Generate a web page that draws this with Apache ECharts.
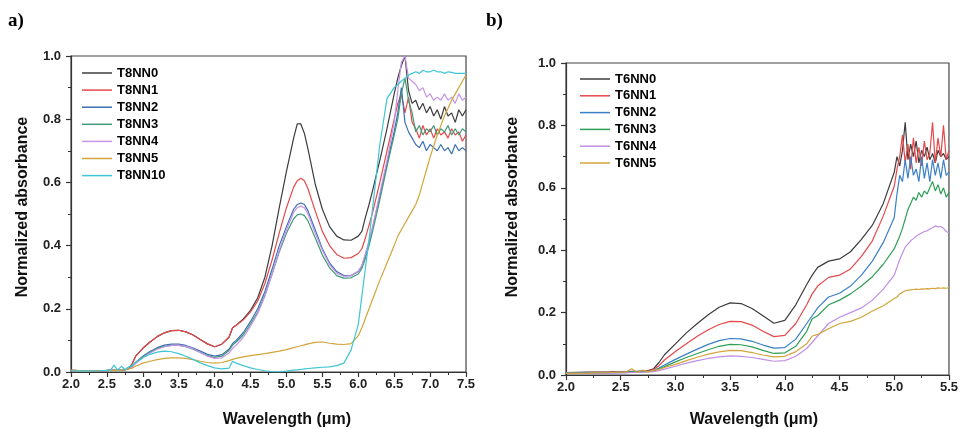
<!DOCTYPE html>
<html>
<head>
<meta charset="utf-8">
<script src="https://cdn.jsdelivr.net/npm/echarts@6/dist/echarts.min.js"></script>
<style>
html,body{margin:0;padding:0;background:#fff;}
#c{width:961px;height:429px;}
</style>
</head>
<body>
<div id="c"></div>
<script>
// ---------- Panel a) ----------
var xA = [2.0,2.2,2.4,2.55,2.6,2.65,2.7,2.75,2.8,2.85,2.9,3.0,3.1,3.2,3.3,3.4,3.5,3.6,3.7,3.8,3.9,4.0,4.1,4.2,4.25,4.3,4.4,4.5,4.6,4.7,4.8,4.9,5.0,5.1,5.15,5.2,5.25,5.3,5.4,5.5,5.6,5.7,5.8,5.9,6.0,6.05,6.1,6.15,6.2,6.3,6.4,6.5,6.55,6.6,6.65,6.7,6.75,6.8,6.85,6.9,6.95,7.0,7.05,7.1,7.15,7.2,7.25,7.3,7.35,7.4,7.45,7.5];
var namesA = ['T8NN0','T8NN1','T8NN2','T8NN3','T8NN4','T8NN5','T8NN10'];
var T8NN0 = [0.005,0.004,0.004,0.005,0.005,0.005,0.006,0.007,0.01,0.025,0.05,0.075,0.095,0.112,0.124,0.131,0.132,0.127,0.117,0.103,0.089,0.08,0.088,0.11,0.14,0.148,0.168,0.195,0.235,0.3,0.4,0.52,0.635,0.74,0.785,0.785,0.755,0.705,0.595,0.515,0.46,0.43,0.418,0.417,0.43,0.445,0.49,0.53,0.575,0.67,0.77,0.88,0.93,0.97,1.0,0.89,0.85,0.86,0.83,0.85,0.82,0.84,0.81,0.83,0.8,0.84,0.81,0.82,0.79,0.83,0.81,0.83];
var T8NN1 = [0.005,0.004,0.004,0.005,0.005,0.005,0.006,0.007,0.01,0.025,0.05,0.075,0.095,0.112,0.124,0.131,0.132,0.127,0.117,0.103,0.089,0.08,0.088,0.11,0.14,0.148,0.165,0.19,0.225,0.28,0.355,0.44,0.52,0.585,0.605,0.613,0.605,0.58,0.51,0.445,0.4,0.372,0.36,0.362,0.375,0.39,0.425,0.465,0.505,0.6,0.7,0.8,0.85,0.88,0.82,0.87,0.79,0.77,0.74,0.78,0.75,0.77,0.74,0.77,0.75,0.76,0.74,0.77,0.75,0.76,0.73,0.75];
var T8NN2 = [0.005,0.004,0.004,0.005,0.005,0.005,0.006,0.007,0.01,0.018,0.03,0.05,0.065,0.077,0.085,0.088,0.088,0.084,0.076,0.066,0.056,0.05,0.055,0.072,0.09,0.1,0.125,0.16,0.2,0.255,0.325,0.4,0.46,0.515,0.53,0.535,0.53,0.51,0.45,0.39,0.345,0.318,0.305,0.305,0.318,0.335,0.37,0.41,0.455,0.555,0.66,0.76,0.82,0.9,0.79,0.76,0.74,0.72,0.71,0.73,0.7,0.72,0.71,0.7,0.72,0.7,0.71,0.69,0.72,0.7,0.71,0.7];
var T8NN3 = [0.004,0.004,0.004,0.005,0.005,0.005,0.006,0.007,0.01,0.018,0.03,0.048,0.063,0.074,0.081,0.084,0.084,0.08,0.072,0.062,0.052,0.046,0.05,0.068,0.085,0.095,0.118,0.152,0.19,0.243,0.31,0.38,0.44,0.485,0.497,0.5,0.495,0.478,0.425,0.37,0.33,0.305,0.297,0.298,0.31,0.327,0.36,0.4,0.445,0.545,0.65,0.75,0.8,0.88,0.93,0.86,0.82,0.76,0.78,0.75,0.77,0.76,0.78,0.75,0.77,0.76,0.78,0.75,0.77,0.75,0.77,0.76];
var T8NN4 = [0.004,0.003,0.004,0.005,0.005,0.005,0.006,0.007,0.01,0.015,0.027,0.045,0.06,0.072,0.08,0.084,0.085,0.081,0.073,0.062,0.05,0.043,0.045,0.06,0.075,0.085,0.11,0.145,0.185,0.24,0.31,0.385,0.45,0.505,0.52,0.525,0.52,0.5,0.44,0.385,0.34,0.313,0.303,0.305,0.32,0.337,0.375,0.415,0.46,0.565,0.67,0.79,0.89,0.98,1.0,0.93,0.92,0.91,0.89,0.9,0.87,0.88,0.86,0.87,0.86,0.88,0.86,0.87,0.85,0.88,0.86,0.87];
var T8NN5 = [0.006,0.003,0.004,0.005,0.005,0.005,0.006,0.007,0.01,0.012,0.018,0.028,0.034,0.039,0.043,0.045,0.045,0.043,0.039,0.034,0.03,0.028,0.03,0.036,0.04,0.043,0.048,0.052,0.055,0.058,0.062,0.066,0.071,0.077,0.08,0.083,0.086,0.089,0.094,0.095,0.091,0.088,0.087,0.09,0.115,0.14,0.17,0.2,0.23,0.29,0.345,0.4,0.43,0.45,0.47,0.49,0.51,0.53,0.56,0.6,0.64,0.68,0.715,0.75,0.78,0.81,0.835,0.86,0.88,0.9,0.92,0.94];
var T8NN10 = [0.004,0.003,0.004,0.006,0.022,0.006,0.018,0.008,0.016,0.02,0.03,0.045,0.056,0.063,0.066,0.064,0.058,0.05,0.04,0.029,0.02,0.013,0.01,0.012,0.034,0.028,0.02,0.013,0.008,0.004,0.001,0.0,0.003,0.006,0.007,0.008,0.01,0.011,0.013,0.015,0.016,0.02,0.028,0.07,0.15,0.24,0.33,0.42,0.52,0.72,0.865,0.9,0.91,0.92,0.93,0.94,0.945,0.95,0.945,0.955,0.95,0.95,0.955,0.95,0.95,0.945,0.95,0.948,0.945,0.945,0.945,0.945];
var colorsA = ['#3c3c3c','#e4484b','#3b6fb6','#3f9a78','#c793e6','#d1a53a','#3ec6d6'];

// ---------- Panel b) ----------
var xB = [2.0,2.2,2.4,2.55,2.6,2.65,2.7,2.75,2.8,2.85,2.9,3.0,3.1,3.2,3.3,3.4,3.5,3.6,3.7,3.8,3.9,4.0,4.1,4.2,4.25,4.3,4.4,4.5,4.6,4.7,4.8,4.9,5.0,5.025,5.05,5.075,5.1,5.125,5.15,5.175,5.2,5.225,5.25,5.275,5.3,5.325,5.35,5.375,5.4,5.425,5.45,5.475,5.5];
var namesB = ['T6NN0','T6NN1','T6NN2','T6NN3','T6NN4','T6NN5'];
var T6NN0 = [0.008,0.009,0.01,0.011,0.012,0.012,0.013,0.014,0.02,0.04,0.065,0.1,0.135,0.165,0.193,0.217,0.231,0.229,0.213,0.19,0.166,0.175,0.225,0.29,0.32,0.345,0.365,0.372,0.395,0.435,0.48,0.55,0.65,0.7,0.67,0.72,0.81,0.69,0.74,0.7,0.75,0.68,0.72,0.7,0.73,0.69,0.71,0.68,0.72,0.7,0.71,0.69,0.7];
var T6NN1 = [0.007,0.008,0.009,0.01,0.011,0.011,0.012,0.013,0.018,0.03,0.048,0.075,0.1,0.124,0.145,0.162,0.172,0.171,0.16,0.14,0.123,0.127,0.165,0.225,0.26,0.285,0.313,0.32,0.34,0.38,0.43,0.51,0.605,0.66,0.7,0.77,0.68,0.74,0.66,0.76,0.68,0.73,0.67,0.75,0.69,0.71,0.81,0.68,0.76,0.7,0.8,0.69,0.72];
var T6NN2 = [0.006,0.007,0.008,0.009,0.01,0.01,0.011,0.012,0.015,0.022,0.032,0.05,0.067,0.083,0.098,0.11,0.117,0.116,0.108,0.096,0.086,0.088,0.115,0.165,0.19,0.215,0.25,0.262,0.285,0.32,0.365,0.425,0.505,0.58,0.64,0.62,0.69,0.63,0.7,0.64,0.66,0.62,0.7,0.63,0.68,0.62,0.69,0.64,0.68,0.63,0.69,0.64,0.65];
var T6NN3 = [0.006,0.006,0.007,0.008,0.009,0.009,0.01,0.011,0.013,0.019,0.027,0.042,0.056,0.069,0.081,0.092,0.098,0.097,0.09,0.079,0.069,0.071,0.092,0.14,0.18,0.19,0.225,0.24,0.26,0.285,0.315,0.355,0.405,0.425,0.445,0.47,0.5,0.53,0.55,0.57,0.56,0.585,0.57,0.59,0.58,0.6,0.62,0.59,0.61,0.58,0.6,0.57,0.585];
var T6NN4 = [0.005,0.005,0.006,0.007,0.008,0.008,0.009,0.01,0.011,0.014,0.019,0.028,0.038,0.046,0.053,0.058,0.061,0.06,0.056,0.05,0.044,0.046,0.06,0.085,0.105,0.125,0.165,0.185,0.2,0.215,0.24,0.275,0.32,0.345,0.37,0.39,0.41,0.42,0.43,0.437,0.445,0.45,0.455,0.46,0.462,0.468,0.472,0.478,0.475,0.476,0.47,0.46,0.455];
var T6NN5 = [0.005,0.006,0.008,0.01,0.02,0.008,0.016,0.01,0.015,0.018,0.024,0.034,0.046,0.057,0.067,0.074,0.079,0.078,0.072,0.064,0.058,0.06,0.075,0.1,0.125,0.13,0.148,0.165,0.172,0.185,0.205,0.222,0.245,0.25,0.26,0.265,0.27,0.272,0.273,0.274,0.275,0.274,0.276,0.275,0.277,0.276,0.278,0.277,0.279,0.278,0.279,0.278,0.28];
var colorsB = ['#3c3c3c','#e4484b','#3a80c6','#2f9f55','#c08ee8','#d1a53a'];

var xTicksA = [2.0,2.5,3.0,3.5,4.0,4.5,5.0,5.5,6.0,6.5,7.0,7.5];
var xTicksB = [2.0,2.5,3.0,3.5,4.0,4.5,5.0,5.5];
var yTicks = [0.0,0.2,0.4,0.6,0.8,1.0];

var seriesA = [T8NN0,T8NN1,T8NN2,T8NN3,T8NN4,T8NN5,T8NN10];
var seriesB = [T6NN0,T6NN1,T6NN2,T6NN3,T6NN4,T6NN5];

var FONT = '"Liberation Sans", Arial, sans-serif';
function pairs(xs, ys){ return xs.map(function(x,i){ return [x, ys[i]]; }); }

function xAxisDef(gi, ticks){
  return {
    type:'value', gridIndex:gi, min:ticks[0], max:ticks[ticks.length-1], interval:0.5,
    axisLine:{show:true, lineStyle:{color:'#333', width:1.2}},
    axisTick:{show:true, length:5, lineStyle:{color:'#333', width:1.2}},
    minorTick:{show:true, splitNumber:2, length:3, lineStyle:{color:'#333', width:1}},
    splitLine:{show:false},
    axisLabel:{margin:6, color:'#222', fontFamily:FONT, fontWeight:'bold', fontSize:13,
      formatter:function(v){ return v.toFixed(1); }}
  };
}
function yAxisDef(gi){
  return {
    type:'value', gridIndex:gi, min:yTicks[0], max:yTicks[yTicks.length-1], interval:0.2,
    axisLine:{show:true, lineStyle:{color:'#333', width:1.2}},
    axisTick:{show:true, length:5, lineStyle:{color:'#333', width:1.2}},
    minorTick:{show:true, splitNumber:2, length:3, lineStyle:{color:'#333', width:1}},
    splitLine:{show:false},
    axisLabel:{margin:10, color:'#222', fontFamily:FONT, fontWeight:'bold', fontSize:13,
      formatter:function(v){ return v.toFixed(1); }}
  };
}

var series = [];
seriesA.forEach(function(ys, i){
  series.push({type:'line', name:namesA[i], xAxisIndex:0, yAxisIndex:0, data:pairs(xA, ys),
    symbol:'none', showSymbol:false, animation:false,
    lineStyle:{color:colorsA[i], width:1.2}, itemStyle:{color:colorsA[i]}});
});
seriesB.forEach(function(ys, i){
  series.push({type:'line', name:namesB[i], xAxisIndex:1, yAxisIndex:1, data:pairs(xB, ys),
    symbol:'none', showSymbol:false, animation:false,
    lineStyle:{color:colorsB[i], width:1.2}, itemStyle:{color:colorsB[i]}});
});

var legendText = {fontFamily:FONT, fontWeight:'bold', fontSize:13, color:'#000', lineHeight:14};

var chart = echarts.init(document.getElementById('c'), null, {renderer:'canvas'});
chart.setOption({
  animation:false,
  backgroundColor:'#fff',
  grid:[
    {left:71, top:56, width:395, height:316, show:true, borderColor:'#444', borderWidth:1.2, backgroundColor:'transparent'},
    {left:566, top:63, width:386, height:312, show:true, borderColor:'#444', borderWidth:1.2, backgroundColor:'transparent'}
  ],
  xAxis:[xAxisDef(0, xTicksA), xAxisDef(1, xTicksB)],
  yAxis:[yAxisDef(0), yAxisDef(1)],
  legend:[
    {data:namesA, orient:'vertical', left:82, top:66, icon:'rect', itemWidth:30, itemHeight:1.5, itemGap:3.1,
     textStyle:legendText, selectedMode:false, padding:0},
    {data:namesB, orient:'vertical', left:580, top:72, icon:'rect', itemWidth:30, itemHeight:1.5, itemGap:2.8,
     textStyle:legendText, selectedMode:false, padding:0}
  ],
  graphic:[
    {type:'text', x:8, y:21, style:{text:'a)', font:'bold 19px "Liberation Serif", "Times New Roman", serif', fill:'#000', textVerticalAlign:'middle'}},
    {type:'text', x:486, y:21, style:{text:'b)', font:'bold 19px "Liberation Serif", "Times New Roman", serif', fill:'#000', textVerticalAlign:'middle'}},
    {type:'text', x:23, y:207, rotation:Math.PI/2, style:{text:'Normalized absorbance', font:'bold 16px "Liberation Sans", Arial, sans-serif', fill:'#111', textAlign:'center', textVerticalAlign:'middle'}},
    {type:'text', x:513, y:207, rotation:Math.PI/2, style:{text:'Normalized absorbance', font:'bold 16px "Liberation Sans", Arial, sans-serif', fill:'#111', textAlign:'center', textVerticalAlign:'middle'}},
    {type:'text', x:287, y:420, style:{text:'Wavelength (\u03bcm)', font:'bold 16px "Liberation Sans", Arial, sans-serif', fill:'#111', textAlign:'center', textVerticalAlign:'middle'}},
    {type:'text', x:754, y:420, style:{text:'Wavelength (\u03bcm)', font:'bold 16px "Liberation Sans", Arial, sans-serif', fill:'#111', textAlign:'center', textVerticalAlign:'middle'}}
  ],
  series:series
});
</script>
</body>
</html>
